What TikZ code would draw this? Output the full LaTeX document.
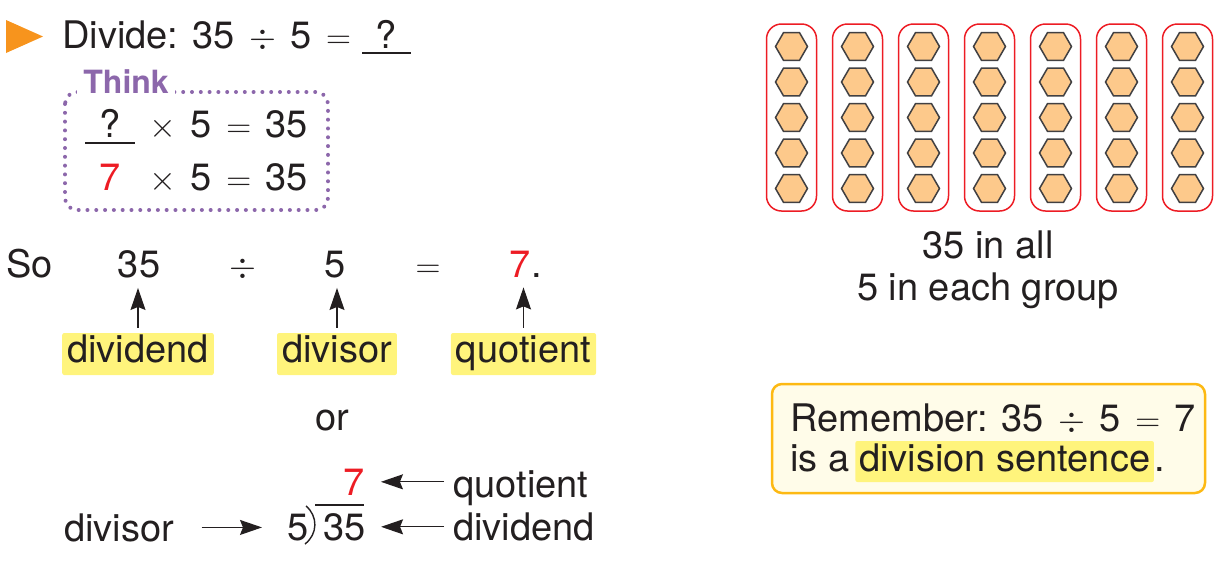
\documentclass[tikz,border=0pt]{standalone}
\usepackage{fontspec}
\setmainfont{TeX Gyre Heros}
\usetikzlibrary{arrows.meta,shapes.geometric}

\definecolor{ink}{HTML}{231F20}
\definecolor{tri}{HTML}{F7941D}
\definecolor{think}{HTML}{8C67AB}
\definecolor{hl}{HTML}{FFF47C}
\definecolor{qred}{HTML}{ED1C24}
\definecolor{hexfill}{HTML}{FDC98B}
\definecolor{hexline}{HTML}{414042}
\definecolor{remline}{HTML}{FDB913}
\definecolor{remfill}{HTML}{FFFCE9}
\newcommand{\opsp}{\hspace{0.38em}}

\begin{document}
\begin{tikzpicture}[x=0.5pt,y=-0.5pt,
		every node/.style={text=ink,font=\fontsize{19}{21}\selectfont,inner sep=0pt},
		hlbox/.style={fill=hl,rounded corners=1pt,inner xsep=2.5pt,text height=14.5pt,text depth=6.5pt},
		pointer/.style={draw=ink,line width=0.6pt,-{Stealth[length=11pt,width=7.5pt,inset=1.5pt]}},
		hexbead/.style={regular polygon,regular polygon sides=6,minimum size=16pt,fill=hexfill,draw=hexline,line width=0.75pt},
		grpbox/.style={draw=qred,line width=0.75pt,rounded corners=7.5pt,minimum width=25pt,minimum height=93.5pt}]
		\useasboundingbox (0,0) rectangle (1223,563);
		
		% heading
		\fill[tri] (6,20) -- (43,36.5) -- (6,53) -- cycle;
		\node[anchor=base west] (Head) at (62,48) {Divide: 35\opsp$\div$\opsp 5\opsp$=$};
		\node[anchor=base] (HeadQ) at (386,48) {?};
		\draw[ink,line width=0.6pt] (362,53) -- (411,53);
		
		% think box
		\draw[think,line width=2pt,dash pattern=on 0pt off 4.4pt,line cap=round,rounded corners=6pt] (65,92) rectangle (328,210);
		\node[anchor=base west,fill=white,inner xsep=3pt,inner ysep=1pt,text=think,font=\fontsize{16}{18}\selectfont\bfseries] (Think) at (77,93) {Think};
		\node[anchor=base] (Q1) at (110,137) {?};
		\draw[ink,line width=0.6pt] (85,143) -- (135,143);
		\node[anchor=base west] (R1) at (149,137) {$\times$\opsp 5\opsp$=$\opsp 35};
		\node[anchor=base,text=qred] (Q2) at (110,190) {7};
		\node[anchor=base west] (R2) at (149,190) {$\times$\opsp 5\opsp$=$\opsp 35};
		
		% so line
		\begin{scope}[every node/.append style={anchor=base}]
			\node[anchor=base west] (So) at (6,277) {So};
			\node (Dvd) at (139,277) {35};
			\node (DivSign) at (243,277) {$\div$};
			\node (Dvs) at (335,277) {5};
			\node (EqSign) at (428,277) {$=$};
			\node[anchor=base west] (Quo) at (509.5,277) {\textcolor{qred}{7}.};
		\end{scope}
		
		\begin{scope}[every node/.append style={hlbox,anchor=base}]
			\node (DvdL) at (138,362) {dividend};
			\node (DvsL) at (337,362) {divisor};
			\node (QuoL) at (523.5,362) {quotient};
		\end{scope}
		
		\begin{scope}[every edge/.append style={pointer,shorten <=2.5pt,shorten >=5pt}]
			\path (DvdL.north) edge (DvdL.north |- Dvd.south);
			\path (DvsL.north) edge (DvsL.north |- Dvs.south);
			\path (QuoL.north) edge (QuoL.north |- Quo.south);
		\end{scope}
		
		\node[anchor=base] (Or) at (332,430) {or};
		
		% long division
		\node[anchor=base west] (DvsB) at (64,541) {divisor};
		\node[anchor=base west] (FiveB) at (287,540) {5};
		\node[anchor=base west] (DvdB) at (323,540) {35};
		\node[anchor=base west,text=qred] (QuoB) at (343,495) {7};
		\draw[ink,line width=0.7pt] (306,506) .. controls (318,516) and (318,534) .. (305,544);
		\draw[ink,line width=0.7pt] (315,505) -- (364,505);
		\node[anchor=base west] (QuoBL) at (453,497) {quotient};
		\node[anchor=base west] (DvdBL) at (453,540) {dividend};
		
		\path (DvsB.east) edge[pointer,shorten <=13.5pt,shorten >=12.5pt] (DvsB.east -| FiveB.west);
		\path (QuoBL.west |- QuoB.east) edge[pointer,shorten <=4.5pt,shorten >=8pt] (QuoB.east);
		\path (DvdBL.west |- DvdB.east) edge[pointer,shorten <=4.5pt,shorten >=7.5pt] (DvdB.east);
		
		% groups of five
		\foreach \g in {0,...,6} {
			\node[grpbox] (G\g) at (791.5+66*\g,117.5) {};
			\foreach \b in {-2,...,2}
				\node[hexbead] (B\g\b) at (791.5+66*\g,117.5+35.5*\b) {};
		}
		\node[anchor=base] (AllCount) at (988,258) {35 in all};
		\node[anchor=base] (EachCount) at (988,300) {5 in each group};
		
		% remember box
		\node[draw=remline,fill=remfill,line width=1.25pt,rounded corners=5pt,minimum width=216.5pt,minimum height=54.5pt] (Rem) at (988.5,438.5) {};
		\node[anchor=base west] (RemA) at (790,431) {Remember: 35\opsp$\div$\opsp 5\opsp$=$\opsp 7};
		\node[anchor=base west] (RemB) at (790,471) {is a};
		\node[hlbox,anchor=base west,inner xsep=1.9pt,text height=15pt,text depth=5.5pt] (RemHl) at (855,471) {division sentence};
		\node[anchor=base west] (RemDot) at (RemHl.base east) {.};
	\end{tikzpicture}
\end{document}
